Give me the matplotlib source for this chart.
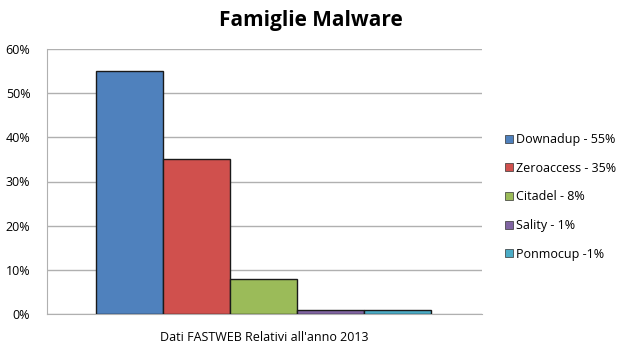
import matplotlib
matplotlib.use("Agg")
import matplotlib.pyplot as plt
from matplotlib.ticker import PercentFormatter
from matplotlib.lines import Line2D

categories = ["Downadup - 55%", "Zeroaccess - 35%", "Citadel - 8%", "Sality - 1%", "Ponmocup -1%"]
values = [55, 35, 8, 1, 1]
colors = ["#4F81BD", "#D0504D", "#9BBB59", "#8064A2", "#4BACC6"]
yticks = [0, 10, 20, 30, 40, 50, 60]

plt.rcParams['font.family'] = ['Open Sans', 'DejaVu Sans']

fig = plt.figure(figsize=(6.22, 3.48), dpi=100)
ax = fig.add_axes([47/622, 1-314/348, 435/622, 265/348])

x = list(range(len(values)))
ax.bar(x, values, width=1.0, color=colors, edgecolor="#1a1a1a", linewidth=1.0, zorder=3)

ax.set_xlim(-1.23, 5.26)
ax.set_ylim(0, 60)
ax.set_yticks(yticks)
ax.yaxis.set_major_formatter(PercentFormatter(decimals=0))
ax.set_xticks([])
ax.grid(axis="y", color="#b0b0b0", linewidth=1.0, zorder=0)
for s in ["top", "right"]:
    ax.spines[s].set_visible(False)
ax.spines["left"].set_color("#b0b0b0")
ax.spines["bottom"].set_color("#b0b0b0")
ax.tick_params(axis="y", length=0, labelsize=9, pad=12)
ax.set_xlabel("Dati FASTWEB Relativi all'anno 2013", fontsize=9, labelpad=12)

fig.text(0.5, 0.94, "Famiglie Malware", ha="center", va="center", fontsize=15, fontweight="bold")

handles = [Line2D([0], [0], marker="s", linestyle="none", markersize=6,
                  markerfacecolor=c, markeredgecolor="#333333", markeredgewidth=0.5) for c in colors]
fig.legend(handles, categories, loc="center left", bbox_to_anchor=(0.79, 0.434),
           frameon=False, fontsize=9, handletextpad=0.1, labelspacing=1.25, handlelength=1.0)

fig.savefig("out.png", dpi=100)
